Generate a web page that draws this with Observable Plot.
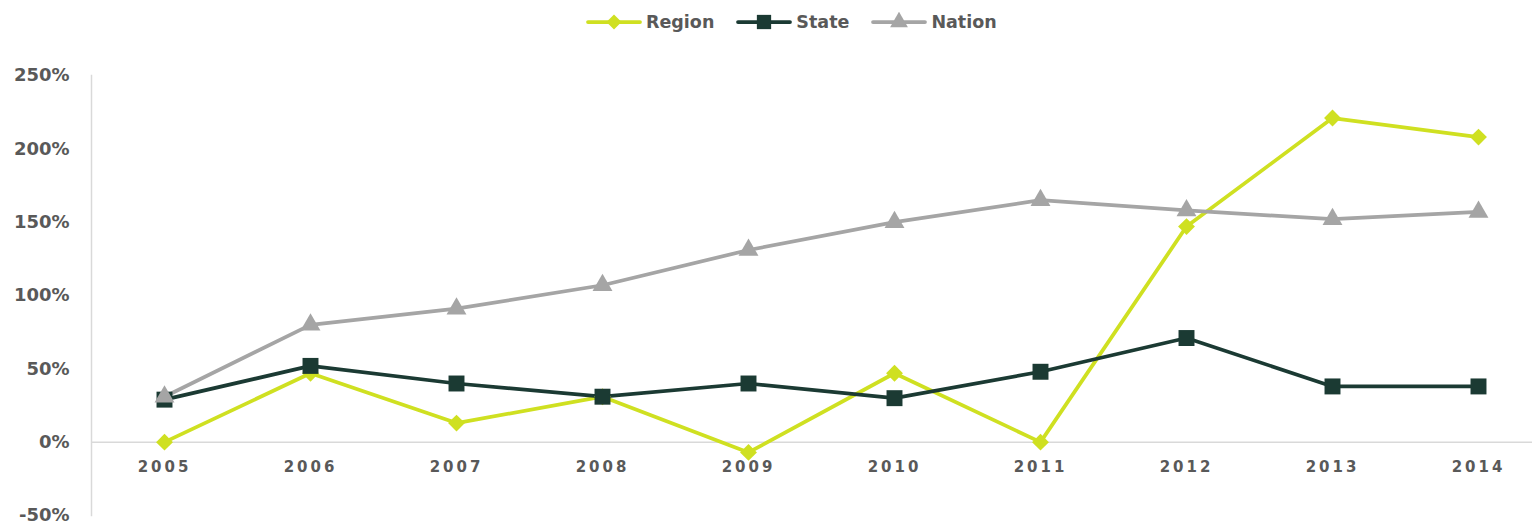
<!DOCTYPE html>
<html>
<head>
<meta charset="utf-8">
<script src="https://cdn.jsdelivr.net/npm/d3@7"></script>
<script src="https://cdn.jsdelivr.net/npm/@observablehq/plot@0.6"></script>
<style>
  html, body { margin: 0; padding: 0; background: #fff; }
  body { width: 1532px; height: 525px; overflow: hidden; font-family: "DejaVu Sans", sans-serif; }
  #legend { position: relative; height: 45px; }
  #legend .items { position: absolute; left: 586px; top: 12px; display: flex; align-items: center; gap: 22px; }
  #legend .item { display: flex; align-items: center; gap: 4px; font-weight: bold; font-size: 17.5px; color: #595959; }
  svg { display: block; }
</style>
</head>
<body>
<div id="legend"><div class="items"></div></div>
<div id="chart"></div>
<script>
const years = [2005, 2006, 2007, 2008, 2009, 2010, 2011, 2012, 2013, 2014];
const region = [0, 47, 13, 31, -7, 47, 0, 147, 221, 208];
const state = [29, 52, 40, 31, 40, 30, 48, 71, 38, 38];
const nation = [31, 80, 91, 107, 131, 150, 165, 158, 152, 157];
const seriesNames = ["Region", "State", "Nation"];
const seriesColors = ["#cfe021", "#1b3a33", "#a5a5a5"];
const seriesSymbols = ["diamond2", "square", "triangle"];
const seriesR = [7.6, 9, 7.4];
const yTicks = [-50, 0, 50, 100, 150, 200, 250];

const seriesValues = [region, state, nation];
const data = seriesNames.flatMap((name, i) =>
  years.map((year, j) => ({ year, value: seriesValues[i][j], series: name }))
);

const textColor = "#595959";
const gridColor = "#d9d9d9";

const marks = [
  Plot.ruleY([0], { stroke: gridColor, strokeWidth: 1.5 }),
  Plot.frame({ anchor: "left", stroke: gridColor, strokeWidth: 1.5 }),
  ...seriesNames.map((name, i) =>
    Plot.line(data.filter(d => d.series === name), {
      x: "year", y: "value", stroke: seriesColors[i], strokeWidth: 3.75, strokeLinejoin: "miter", curve: "linear"
    })
  ),
  ...seriesNames.map((name, i) =>
    Plot.dot(data.filter(d => d.series === name), {
      x: "year", y: "value", symbol: () => seriesSymbols[i], r: seriesR[i], fill: seriesColors[i], stroke: "none"
    })
  ),
  Plot.axisY({
    ticks: yTicks, tickSize: 0, tickPadding: 22,
    tickFormat: d => d + "%", label: null,
    fontSize: 18, fontWeight: "bold", fill: textColor
  }),
  Plot.text(years, {
    x: d => d, y: 0, dy: 25, text: d => String(d),
    fontSize: 15, fontWeight: "bold", fill: textColor
  })
];

const chart = Plot.plot({
  width: 1532,
  height: 480,
  marginLeft: 91,
  marginRight: 0,
  marginTop: 30,
  marginBottom: 10,
  style: { fontFamily: "DejaVu Sans", background: "#fff", overflow: "visible" },
  x: { type: "point", domain: years, range: [164, 1478], padding: 0, axis: null },
  y: { domain: [-50, 250], axis: null },
  symbol: { domain: seriesSymbols, range: seriesSymbols },
  marks
});
chart.querySelectorAll("text").forEach(t => {
  if (/^\d{4}$/.test(t.textContent)) t.setAttribute("letter-spacing", "3px");
});
document.getElementById("chart").appendChild(chart);

// legend
const items = d3.select("#legend .items");
seriesNames.forEach((name, i) => {
  const item = items.append("div").attr("class", "item");
  const svg = item.append("svg").attr("width", 56).attr("height", 20);
  svg.append("line").attr("x1", 2).attr("x2", 54).attr("y1", 10).attr("y2", 10)
    .attr("stroke", seriesColors[i]).attr("stroke-width", 3.75).attr("stroke-linecap", "round");
  const sym = { diamond2: d3.symbolDiamond2, square: d3.symbolSquare, triangle: d3.symbolTriangle }[seriesSymbols[i]];
  svg.append("path").attr("transform", "translate(28,10)")
    .attr("d", d3.symbol(sym, Math.PI * seriesR[i] * seriesR[i] * 0.8)())
    .attr("fill", seriesColors[i]);
  item.append("span").text(name);
});
</script>
</body>
</html>
